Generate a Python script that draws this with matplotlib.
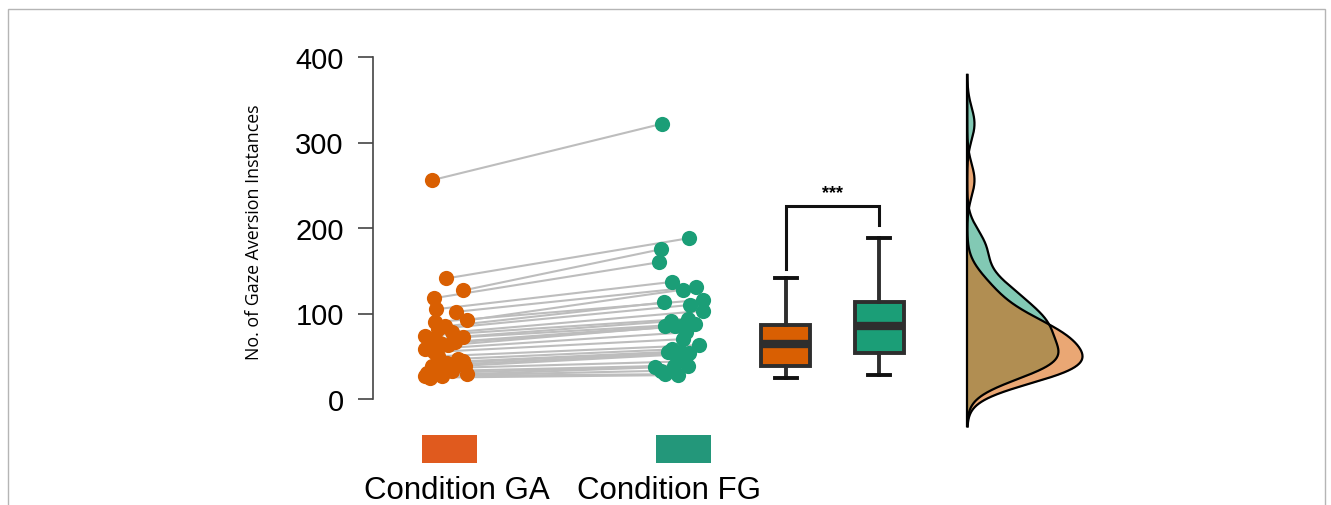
import numpy as np
import matplotlib
matplotlib.use('Agg')
import matplotlib.pyplot as plt
from matplotlib.patches import Rectangle
import matplotlib.transforms as mtransforms

# paired counts per participant
ga_counts = [256, 141, 127, 118, 105, 102, 92, 90, 85, 82, 78, 74, 73, 70, 67, 65,
             63, 58, 55, 50, 47, 44, 42, 39, 39, 36, 33, 30, 29, 27, 27, 25]
fg_counts = [322, 188, 175, 160, 137, 131, 128, 116, 113, 110, 103, 94, 91, 88, 85, 85,
             85, 78, 70, 63, 58, 55, 55, 54, 52, 44, 39, 39, 37, 33, 29, 28]
# horizontal scatter of the dots around each condition
ga_jitter = [-0.056, 0.004, 0.077, -0.047, -0.039, 0.047, 0.094, -0.043, 0.0, -0.03, 0.03,
             -0.086, 0.077, -0.064, 0.043, -0.021, 0.013, -0.086, -0.05, -0.03, 0.056,
             0.077, 0.009, -0.056, 0.086, -0.021, 0.03, -0.077, 0.094, -0.086, -0.013, -0.064]
fg_jitter = [-0.069, 0.043, -0.077, -0.082, -0.026, 0.073, 0.021, 0.103, -0.06, 0.05,
             0.103, 0.039, -0.034, 0.069, -0.056, 0.009, -0.017, 0.034, 0.021, 0.09,
             -0.026, -0.047, 0.009, 0.043, -0.009, 0.026, -0.021, 0.039, -0.099, -0.073,
             -0.056, -0.004]
conditions = ['Condition GA', 'Condition FG']
yticks = [0, 100, 200, 300, 400]

orange = '#D95F02'
green = '#1B9E77'
dark = '#2e2e2e'
font = 'Liberation Sans'

W, H = 1331, 506
fig = plt.figure(figsize=(W / 100, H / 100), dpi=100)

# main panel: pixels 373..935 wide, 58..400 tall
ax = fig.add_axes([373 / W, (H - 400) / H, (935 - 373) / W, 342 / H])
ga = np.array(ga_counts, float)
fg = np.array(fg_counts, float)
xg = 0 + np.array(ga_jitter)
xf = 1 + np.array(fg_jitter)

for i in range(len(ga)):
    ax.plot([xg[i], xf[i]], [ga[i], fg[i]], color='#bdbdbd', lw=1.5, zorder=1)
ax.scatter(xg, ga, s=120, color=orange, lw=0, zorder=3)
ax.scatter(xf, fg, s=120, color=green, lw=0, zorder=3)

# box plots without the outliers
pos = [1.46, 1.86]
bp = ax.boxplot([ga, fg], positions=pos, widths=0.21, patch_artist=True,
                showfliers=False, capwidths=0.095,
                boxprops=dict(edgecolor=dark, linewidth=2.8),
                medianprops=dict(color=dark, linewidth=6),
                whiskerprops=dict(color=dark, linewidth=2.8),
                capprops=dict(color='#111111', linewidth=2.8))
for patch, c in zip(bp['boxes'], [orange, green]):
    patch.set_facecolor(c)
for k in bp:
    for art in bp[k]:
        art.set_zorder(4)

# significance bracket
top_ga = bp['caps'][1].get_ydata()[0]
top_fg = bp['caps'][3].get_ydata()[0]
ytop = max(top_ga, top_fg) + 38
ax.plot([pos[0], pos[0], pos[1], pos[1]], [top_ga + 11, ytop, ytop, top_fg + 16],
        color='#111111', lw=2.2, solid_joinstyle='miter', zorder=4)
ax.text(np.mean(pos), ytop + 6, '***', ha='center', va='bottom', fontsize=13,
        fontweight='bold', family=font)

ax.set_xlim(-0.31, 2.10)
ax.set_ylim(0, 400)
ax.set_yticks(yticks)
ax.set_yticklabels([str(t) for t in yticks], fontsize=21, family=font)
ax.tick_params(axis='y', length=11, width=1.2, color='#444444', pad=10)
ax.set_xticks([])
for s in ['top', 'right', 'bottom']:
    ax.spines[s].set_visible(False)
ax.spines['left'].set_color('#444444')
ax.spines['left'].set_linewidth(1.2)
ax.set_ylabel('No. of Gaze Aversion Instances', fontsize=12.8, family='Open Sans')
ax.yaxis.set_label_coords(-0.196, 0.49)

# colour keys under the dots
trans = mtransforms.blended_transform_factory(ax.transData, ax.transAxes)
for x0, c, lab, tx in [(0.02, '#E05A1E', conditions[0], 0.05), (1.02, '#23977A', conditions[1], 0.96)]:
    ax.add_patch(Rectangle((x0 - 0.118, -0.187), 0.236, 0.082, transform=trans,
                           color=c, clip_on=False, lw=0))
    ax.text(tx, -0.29, lab, transform=trans, ha='center', va='baseline',
            fontsize=22.5, family=font)

# half-density plot on the right
dax = fig.add_axes([965 / W, (H - 400) / H, 150 / W, 342 / H])
bw = 19.0
allv = np.concatenate([ga, fg])
grid = np.linspace(allv.min() - 3 * bw, allv.max() + 3 * bw, 600)

def kde(v):
    z = (grid[:, None] - v[None, :]) / bw
    return np.exp(-0.5 * z ** 2).sum(axis=1) / (len(v) * bw * np.sqrt(2 * np.pi))

d_ga = kde(ga)
d_fg = kde(fg)
dax.fill_betweenx(grid, 0, d_fg, color=green, alpha=0.55, lw=0, clip_on=False)
dax.plot(d_fg, grid, color='black', lw=1.6, clip_on=False)
dax.fill_betweenx(grid, 0, d_ga, color=orange, alpha=0.55, lw=0, clip_on=False)
dax.plot(d_ga, grid, color='black', lw=1.6, clip_on=False)
dax.plot([0, 0], [grid[0], grid[-1]], color='black', lw=1.6, clip_on=False)
dax.set_ylim(0, 400)
dax.set_xlim(-0.02 * d_ga.max(), d_ga.max() * 150 / 117)
dax.axis('off')

# thin frame around the figure
fig.patches.append(Rectangle((8 / W, -0.1), (1325 - 8) / W, 1.1 - 10 / H, transform=fig.transFigure,
                             fill=False, edgecolor='#b5b5b5', lw=1.0))

fig.savefig('out.png', dpi=100)
